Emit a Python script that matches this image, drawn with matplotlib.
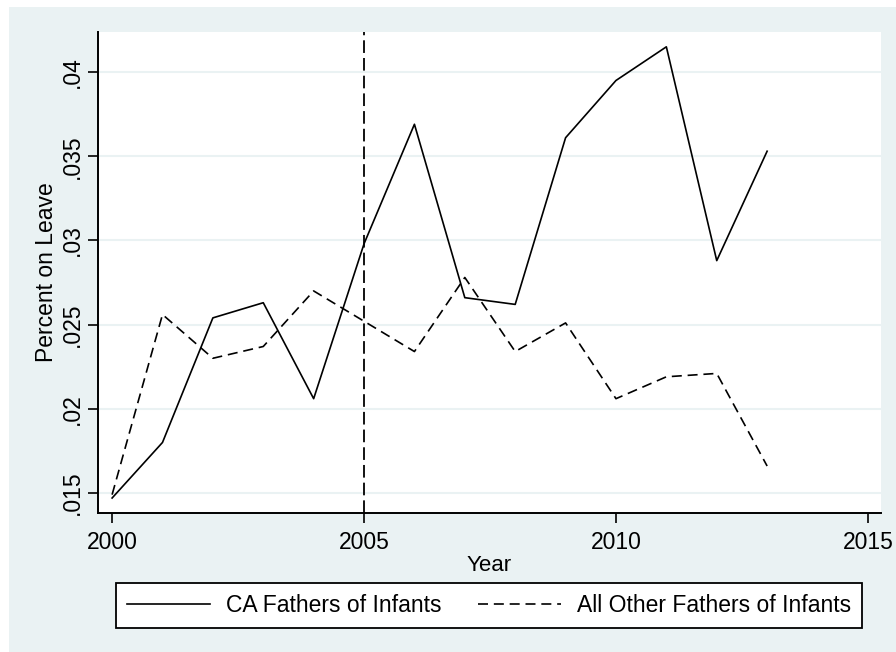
import matplotlib
matplotlib.use('Agg')
import matplotlib.pyplot as plt
from matplotlib.patches import Rectangle
from matplotlib.ticker import FuncFormatter

# dados
anos = [2000, 2001, 2002, 2003, 2004, 2005, 2006, 2007, 2008, 2009, 2010, 2011, 2012, 2013]
pais_ca = [0.0147, 0.0180, 0.0254, 0.0263, 0.0206, 0.0298, 0.0369, 0.0266, 0.0262, 0.0361,
           0.0395, 0.0415, 0.0288, 0.0353]
outros_pais = [0.0149, 0.0256, 0.0230, 0.0237, 0.0270, 0.0252, 0.0234, 0.0278, 0.0234, 0.0251,
               0.0206, 0.0219, 0.0221, 0.0166]
ano_politica = 2005
yticks = [0.015, 0.02, 0.025, 0.03, 0.035, 0.04]
xticks = [2000, 2005, 2010, 2015]

fundo = '#EAF2F3'
plt.rcParams['font.family'] = ['Liberation Sans', 'DejaVu Sans']

W, H = 896, 652
fig = plt.figure(figsize=(W / 100, H / 100), dpi=100)
fig.patch.set_facecolor('white')
# fundo azulado (a imagem original tem uma borda branca em cima e a esquerda)
fundo_rect = Rectangle((9 / W, 0), 1 - 9 / W, 1 - 7 / H, transform=fig.transFigure,
                       facecolor=fundo, edgecolor='none', zorder=-10)
fig.add_artist(fundo_rect)

ax = fig.add_axes([98 / W, 1 - 513 / H, (881 - 98) / W, (513 - 32) / H])
ax.set_facecolor('white')

ax.plot(anos, pais_ca, color='black', lw=1.2, ls='-', label='CA Fathers of Infants', zorder=3)
ax.plot(anos, outros_pais, color='black', lw=1.2, ls=(0, (6, 3.5)),
        label='All Other Fathers of Infants', zorder=3)
ax.axvline(ano_politica, color='black', lw=1.3, ls=(0, (7, 2.8)), zorder=2)

ax.set_xlim(1999.72, 2015.26)
ax.set_ylim(0.01381, 0.04238)
ax.set_xticks(xticks)
ax.set_yticks(yticks)
ax.yaxis.set_major_formatter(FuncFormatter(lambda v, p: ('%g' % v).lstrip('0')))
ax.grid(axis='y', color=fundo, lw=1.5, zorder=1)
ax.grid(axis='x', visible=False)

for lado in ['top', 'right']:
    ax.spines[lado].set_visible(False)
for lado in ['left', 'bottom']:
    ax.spines[lado].set_linewidth(1.4)
    ax.spines[lado].set_color('black')

ax.tick_params(axis='both', direction='out', length=7, width=1.2, labelsize=16.5, colors='black')
ax.tick_params(axis='x', pad=6)
ax.tick_params(axis='y', pad=3)
for lbl in ax.get_yticklabels():
    lbl.set_rotation(90)
    lbl.set_va('center')

ax.set_xlabel('Year', fontsize=16, labelpad=1)
ax.set_ylabel('Percent on Leave', fontsize=16.5, labelpad=2)

leg = fig.legend(loc='center', bbox_to_anchor=(489 / W, 1 - 605.5 / H), ncol=2,
                 fontsize=16.5, frameon=True, fancybox=False, framealpha=1, handlelength=3.6,
                 columnspacing=1.6, handletextpad=0.7, borderpad=0.5)
leg.get_frame().set_edgecolor('black')
leg.get_frame().set_linewidth(1.3)
leg.get_frame().set_facecolor('white')

fig.savefig('out.png', dpi=100, facecolor=fig.get_facecolor())
